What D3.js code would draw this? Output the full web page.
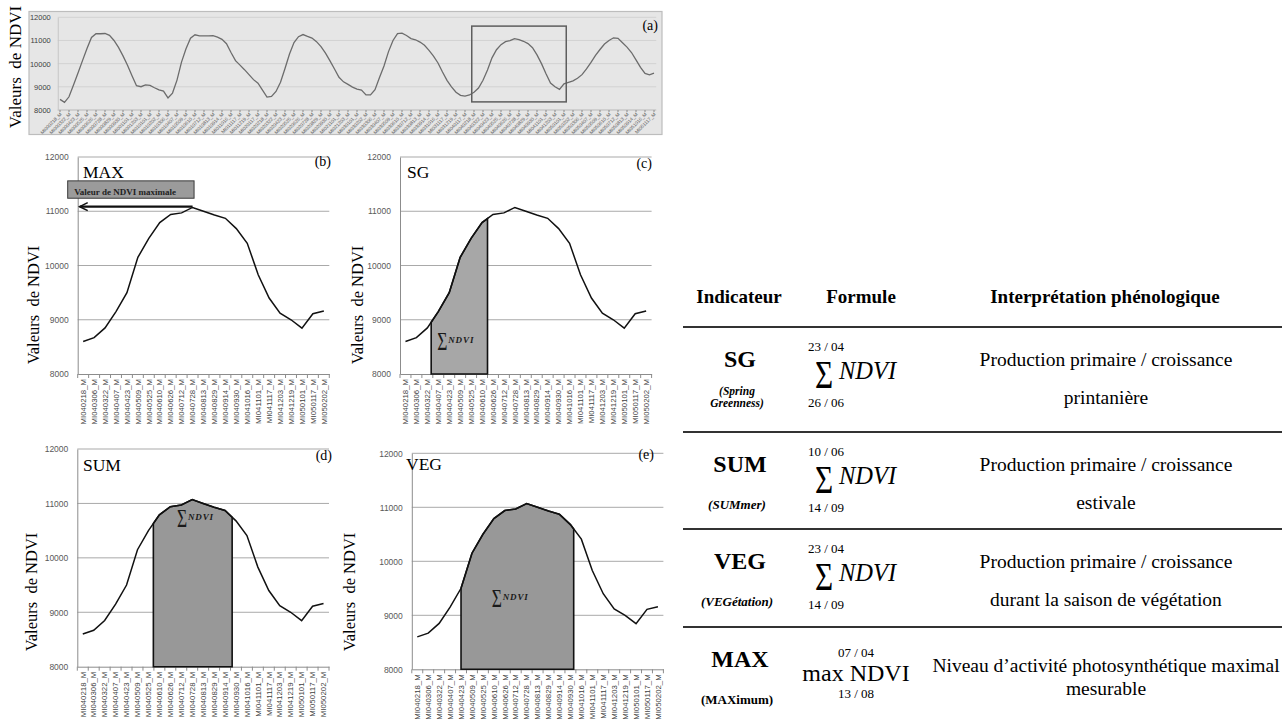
<!DOCTYPE html>
<html>
<head>
<meta charset="utf-8">
<script src="https://cdn.jsdelivr.net/npm/d3@7"></script>
<style>
  html, body { margin: 0; padding: 0; background: #fff; }
  svg { display: block; }
  text { white-space: pre; }
</style>
</head>
<body>
<svg id="fig" width="1282" height="720"></svg>
<script>
// ---------------- data ----------------
// MODIS 16-day composite dates (mmdd) within one year
const compositeDays = ["0101","0117","0202","0218","0306","0322","0407","0423","0509","0525","0610","0626",
                       "0712","0728","0813","0829","0914","0930","1016","1101","1117","1203","1219"];
const overviewStart = 3; // first composite of the series: 18 Feb 2000

// NDVI time series 2000-2005 (panel a)
const overviewNdvi = [
  8460, 8330, 8570, 9080, 9600, 10130, 10650, 11130, 11295, 11290,
  11300, 11220, 11000, 10700, 10335, 9930, 9480, 9050, 9005, 9080,
  9065, 8960, 8865, 8815, 8520, 8730, 9290, 10065, 10640, 11100,
  11245, 11200, 11195, 11200, 11205, 11145, 11050, 10860, 10480, 10130,
  9935, 9740, 9525, 9310, 9160, 8860, 8555, 8585, 8800, 9195,
  9790, 10415, 10910, 11165, 11255, 11175, 11105, 10950, 10735, 10450,
  10120, 9770, 9410, 9215, 9105, 8990, 8905, 8860, 8650, 8650,
  8880, 9400, 9900, 10520, 11000, 11300, 11315, 11215, 11080, 11030,
  10930, 10790, 10570, 10325, 10030, 9640, 9280, 9000, 8770, 8630,
  8600, 8650, 8765, 8950, 9285, 9730, 10250, 10600, 10820, 10950,
  10990, 11080, 11035, 10965, 10865, 10690, 10380, 10000, 9560, 9165,
  9005, 8890, 9130, 9195, 9260, 9370, 9525, 9770, 10055, 10360,
  10610, 10845, 11000, 11115, 11090, 10900, 10715, 10480, 10160, 9840,
  9580, 9515, 9590
];
const overviewDates = overviewNdvi.map((_, k) => {
  const n = overviewStart + k;
  return "MI0" + Math.floor(n / 23) + compositeDays[n % 23] + "_M";
});
// highlighted season in the overview (index range, NDVI range)
const zoomWindow = { from: 91.5, to: 112.5, low: 8350, high: 11620 };

// 2004-2005 season (panels b-e)
const seasonDates = ["MI040218_M","MI040306_M","MI040322_M","MI040407_M","MI040423_M","MI040509_M",
  "MI040525_M","MI040610_M","MI040626_M","MI040712_M","MI040728_M","MI040813_M","MI040829_M",
  "MI040914_M","MI040930_M","MI041016_M","MI041101_M","MI041117_M","MI041203_M","MI041219_M",
  "MI050101_M","MI050117_M","MI050202_M"];
const seasonNdvi = [8600, 8670, 8850, 9150, 9500, 10150, 10500, 10790, 10940, 10970, 11070, 11000,
  10930, 10870, 10680, 10410, 9830, 9400, 9120, 9000, 8845, 9110, 9160];
const yTicks = [8000, 9000, 10000, 11000, 12000];

// summation windows (fractional composite index)
const sgWindow  = [2.35, 7.5];
const sumWindow = [6.45, 13.65];
const vegWindow = [4, 14.3];

// indicator table
const headerLabels   = ["Indicateur", "Formule", "Interprétation phénologique"];
const indicatorCodes = ["SG", "SUM", "VEG", "MAX"];
const indicatorNotes = [["(Spring", "Greenness)"], ["(SUMmer)"], ["(VEGétation)"], ["(MAXimum)"]];
const formulaUpper   = ["23 / 04", "10 / 06", "23 / 04", "07 / 04"];
const formulaLower   = ["26 / 06", "14 / 09", "14 / 09", "13 / 08"];
const interpretation = [
  ["Production primaire / croissance", "printanière"],
  ["Production primaire / croissance", "estivale"],
  ["Production primaire / croissance", "durant la saison de végétation"],
  ["Niveau d\u2019activité photosynthétique maximal", "mesurable"]
];

// ---------------- drawing ----------------
const serif = "'Liberation Serif','Times New Roman',serif";
const sans = "'Liberation Sans',Arial,sans-serif";
const fmt = d3.format("d");
const svg = d3.select("#fig");
svg.append("rect").attr("width", 1282).attr("height", 720).attr("fill", "#fff");

// ---- panel (a): full time series ----
(function drawOverview() {
  const box = { x0: 29, y0: 11.5, x1: 662, y1: 134.5 };
  const plot = { left: 57.75, right: 656.25, top: 17.3, bottom: 110 };
  const g = svg.append("g");
  g.append("rect").attr("x", box.x0).attr("y", box.y0)
    .attr("width", box.x1 - box.x0).attr("height", box.y1 - box.y0)
    .attr("fill", "#e6e6e6").attr("stroke", "#bdbdbd").attr("stroke-width", 1.2);

  const x = d3.scaleBand().domain(d3.range(overviewNdvi.length)).range([plot.left, plot.right]);
  const cx = i => x(i) + x.bandwidth() / 2;
  const y = d3.scaleLinear().domain([yTicks[0], yTicks[yTicks.length - 1]]).range([plot.bottom, plot.top]);

  g.selectAll("line.grid").data(yTicks).join("line").attr("class", "grid")
    .attr("x1", plot.left).attr("x2", plot.right)
    .attr("y1", d => y(d)).attr("y2", d => y(d))
    .attr("stroke", d => d === yTicks[0] ? "#b8b8b8" : "#d2d2d2").attr("stroke-width", 1);

  const ya = g.append("g").attr("transform", `translate(${plot.left},0)`)
    .call(d3.axisLeft(y).tickValues(yTicks).tickFormat(fmt).tickSize(0).tickPadding(7));
  ya.select(".domain").attr("stroke", "#c6c6c6");
  ya.selectAll("text").attr("font-family", sans).attr("font-size", 7.5).attr("fill", "#404040");

  const labelIdx = d3.range(0, overviewNdvi.length, 2);
  const xa = g.append("g").attr("transform", `translate(0,${plot.bottom})`)
    .call(d3.axisBottom(x).tickValues(labelIdx).tickFormat(i => overviewDates[i]).tickSize(2).tickSizeOuter(0));
  xa.select(".domain").remove();
  xa.selectAll(".tick line").attr("stroke", "#8a8a8a");
  xa.selectAll("text").attr("x", 0).attr("y", 0).attr("dy", "0.35em")
    .attr("transform", "translate(1,3.5) rotate(-45)").attr("text-anchor", "end")
    .attr("font-family", sans).attr("font-size", 4.8).attr("fill", "#606060");

  g.append("path").datum(overviewNdvi)
    .attr("d", d3.line().x((d, i) => cx(i)).y(d => y(d)))
    .attr("fill", "none").attr("stroke", "#6c6c6c").attr("stroke-width", 1.3);

  const step = x.step();
  const hx0 = plot.left + (zoomWindow.from + 0.5) * step;
  const hx1 = plot.left + (zoomWindow.to + 0.5) * step;
  g.append("rect").attr("x", hx0).attr("y", y(zoomWindow.high))
    .attr("width", hx1 - hx0).attr("height", y(zoomWindow.low) - y(zoomWindow.high))
    .attr("fill", "none").attr("stroke", "#5e5e5e").attr("stroke-width", 1.5);

  svg.append("text").attr("transform", "translate(21,67) rotate(-90)")
    .attr("text-anchor", "middle").attr("font-family", serif).attr("font-size", 17)
    .text("Valeurs\u00a0 de NDVI");
  g.append("text").attr("x", box.x1 - 4).attr("y", 30).attr("text-anchor", "end")
    .attr("font-family", serif).attr("font-size", 14).text("(a)");
})();

// ---- panels (b)-(e): one season ----
const n = seasonNdvi.length;
function valueAt(t) {
  const i = Math.floor(t), f = t - i;
  if (i >= n - 1) return seasonNdvi[n - 1];
  return seasonNdvi[i] + f * (seasonNdvi[i + 1] - seasonNdvi[i]);
}

function seasonPanel(p) {
  const g = svg.append("g");
  const x = d3.scaleBand().domain(d3.range(n)).range([p.left, p.right]);
  const step = x.step();
  const at = t => p.left + (t + 0.5) * step;
  const y = d3.scaleLinear().domain([yTicks[0], yTicks[yTicks.length - 1]]).range([p.bottom, p.top]);

  g.selectAll("line.grid").data(yTicks.slice(1)).join("line").attr("class", "grid")
    .attr("x1", p.left).attr("x2", p.right)
    .attr("y1", d => y(d)).attr("y2", d => y(d))
    .attr("stroke", "#a9a9a9").attr("stroke-width", 1);

  const ya = g.append("g").attr("transform", `translate(${p.left},0)`)
    .call(d3.axisLeft(y).tickValues(yTicks).tickFormat(fmt).tickSize(0).tickPadding(9));
  ya.select(".domain").attr("stroke", "#8c8c8c");
  ya.selectAll("text").attr("font-family", sans).attr("font-size", 8.5).attr("fill", "#595959");

  const xa = g.append("g").attr("transform", `translate(0,${p.bottom})`)
    .call(d3.axisBottom(x).tickFormat(i => seasonDates[i]).tickSize(0).tickSizeOuter(0));
  xa.select(".domain").attr("stroke", "#8c8c8c");
  xa.selectAll("text").attr("x", 0).attr("y", 0).attr("dy", "0.35em")
    .attr("transform", "translate(0,5) rotate(-90)").attr("text-anchor", "end")
    .attr("font-family", sans).attr("font-size", 7.8).attr("fill", "#404040");
  g.selectAll("line.tk").data(d3.range(n + 1)).join("line").attr("class", "tk")
    .attr("x1", i => p.left + i * step).attr("x2", i => p.left + i * step)
    .attr("y1", p.bottom).attr("y2", p.bottom + 4)
    .attr("stroke", "#8c8c8c");

  if (p.window) {
    const [a, b] = p.window;
    const ts = [a, ...d3.range(Math.ceil(a), Math.floor(b) + 1).filter(t => t > a && t < b), b];
    const pts = ts.map(t => ({ t, v: valueAt(t) }));
    g.append("path").datum(pts)
      .attr("d", d3.area().x(d => at(d.t)).y0(y(yTicks[0])).y1(d => y(d.v)))
      .attr("fill", p.fill).attr("stroke", "#111").attr("stroke-width", 1.6);
    const lx = at(p.sumLabel.t), ly = y(p.sumLabel.v);
    g.append("text").attr("transform", `translate(${lx},${ly}) scale(0.7,1)`)
      .attr("font-family", serif).attr("font-size", 25).attr("fill", "#1a1a1a").text("\u03a3");
    g.append("text").attr("x", lx + 11).attr("y", ly - 7)
      .attr("font-family", serif).attr("font-style", "italic").attr("font-weight", "bold")
      .attr("font-size", 9).attr("letter-spacing", 0.9).attr("fill", "#1a1a1a").text("NDVI");
  }

  g.append("path").datum(seasonNdvi)
    .attr("d", d3.line().x((d, i) => at(i)).y(d => y(d)))
    .attr("fill", "none").attr("stroke", "#111").attr("stroke-width", 1.5);

  if (p.maxMarker) {
    const peak = d3.maxIndex(seasonNdvi);
    const py = y(seasonNdvi[peak]) - 0.8;
    g.append("rect").attr("x", p.left - 10).attr("y", y(11560))
      .attr("width", at(peak) + 1.5 - (p.left - 10)).attr("height", y(11240) - y(11560))
      .attr("fill", "#9b9b9b").attr("stroke", "#3a3a3a").attr("stroke-width", 1);
    g.append("text").attr("x", p.left - 3.5).attr("y", y(11300))
      .attr("font-family", serif).attr("font-weight", "bold").attr("font-size", 9)
      .attr("fill", "#222").text("Valeur de NDVI maximale");
    g.append("line").attr("x1", at(peak)).attr("x2", p.left + 2)
      .attr("y1", py).attr("y2", py).attr("stroke", "#111").attr("stroke-width", 2.4);
    g.append("path").attr("d", `M${p.left + 10},${py - 4}L${p.left + 2},${py}L${p.left + 10},${py + 4}`)
      .attr("fill", "none").attr("stroke", "#111").attr("stroke-width", 1.6);
  }

  svg.append("text").attr("transform", `translate(${p.titleX},${p.titleY}) rotate(-90)`)
    .attr("text-anchor", "middle").attr("font-family", serif).attr("font-size", 16.5)
    .text("Valeurs\u00a0 de NDVI");
  g.append("text").attr("x", p.tagX).attr("y", p.tagY).attr("text-anchor", "end")
    .attr("font-family", serif).attr("font-size", 14).text(p.tag);
  g.append("text").attr("x", p.nameX).attr("y", p.nameY)
    .attr("font-family", serif).attr("font-size", 17.5).text(p.name);
}

seasonPanel({ left: 77.7, right: 329.3, top: 157, bottom: 374, tag: "(b)", tagX: 331, tagY: 166,
  name: "MAX", nameX: 83, nameY: 178, titleX: 38.5, titleY: 305, maxMarker: true });
seasonPanel({ left: 400, right: 651.6, top: 157, bottom: 374, tag: "(c)", tagX: 652, tagY: 168,
  name: "SG", nameX: 407, nameY: 178, titleX: 363, titleY: 305,
  window: sgWindow, fill: "#a7a7a7", sumLabel: { t: 2.9, v: 8440 } });
seasonPanel({ left: 77.3, right: 329, top: 449, bottom: 666.7, tag: "(d)", tagX: 332, tagY: 460,
  name: "SUM", nameX: 83, nameY: 471, titleX: 37, titleY: 592,
  window: sumWindow, fill: "#989898", sumLabel: { t: 8.6, v: 10570 } });
seasonPanel({ left: 411.8, right: 663.4, top: 453.3, bottom: 669.3, tag: "(e)", tagX: 654, tagY: 459,
  name: "VEG", nameX: 406, nameY: 470, titleX: 355, titleY: 592,
  window: vegWindow, fill: "#989898", sumLabel: { t: 6.8, v: 9160 } });

// ---- indicator table ----
(function drawTable() {
  const left = 683, right = 1282;
  const rowTops = [327, 432, 529, 627];
  const headerX = [739, 861, 1105];
  const codeX = 740, limitX = 826, sigmaX = 815, ndviX = 839, maxX = 856, interpX = 1106;
  const g = svg.append("g");

  g.selectAll("text.hd").data(headerLabels).join("text").attr("class", "hd")
    .attr("x", (d, i) => headerX[i]).attr("y", 303).attr("text-anchor", "middle")
    .attr("font-family", serif).attr("font-weight", "bold").attr("font-size", 19).text(d => d);

  g.selectAll("line.rule").data(rowTops).join("line").attr("class", "rule")
    .attr("x1", left).attr("x2", right).attr("y1", d => d).attr("y2", d => d)
    .attr("stroke", "#333").attr("stroke-width", 2.2);

  indicatorCodes.forEach((code, r) => {
    const top = rowTops[r];
    const isMax = r === indicatorCodes.length - 1;
    g.append("text").attr("x", codeX).attr("y", top + 40).attr("text-anchor", "middle")
      .attr("font-family", serif).attr("font-weight", "bold").attr("font-size", 24).text(code);
    const notes = indicatorNotes[r];
    notes.forEach((line, k) => {
      g.append("text").attr("x", codeX - 3).attr("y", notes.length > 1 ? top + 68 + 12 * k : top + 77)
        .attr("text-anchor", "middle").attr("font-family", serif).attr("font-weight", "bold")
        .attr("font-style", isMax ? "normal" : "italic")
        .attr("font-size", notes.length > 1 ? 11.5 : 13).text(line);
    });

    if (!isMax) {
      g.append("text").attr("x", limitX).attr("y", top + 24).attr("text-anchor", "middle")
        .attr("font-family", serif).attr("font-size", 13).text(formulaUpper[r]);
      g.append("text").attr("transform", `translate(${sigmaX},${top + 61}) scale(0.78,1)`)
        .attr("font-family", serif).attr("font-size", 40).text("\u03a3");
      g.append("text").attr("x", ndviX).attr("y", top + 52)
        .attr("font-family", serif).attr("font-style", "italic").attr("font-size", 24.5).text("NDVI");
      g.append("text").attr("x", limitX).attr("y", top + 80).attr("text-anchor", "middle")
        .attr("font-family", serif).attr("font-size", 13).text(formulaLower[r]);
    } else {
      g.append("text").attr("x", maxX).attr("y", top + 30).attr("text-anchor", "middle")
        .attr("font-family", serif).attr("font-size", 13).text(formulaUpper[r]);
      g.append("text").attr("x", maxX).attr("y", top + 54).attr("text-anchor", "middle")
        .attr("font-family", serif).attr("font-size", 24).text("max NDVI");
      g.append("text").attr("x", maxX).attr("y", top + 71).attr("text-anchor", "middle")
        .attr("font-family", serif).attr("font-size", 13).text(formulaLower[r]);
    }

    interpretation[r].forEach((line, k) => {
      const yy = isMax ? top + 45 + 23 * k : top + 39 + 38 * k;
      g.append("text").attr("x", interpX).attr("y", yy).attr("text-anchor", "middle")
        .attr("font-family", serif).attr("font-size", 19.5).text(line);
    });
  });
})();
</script>
</body>
</html>
